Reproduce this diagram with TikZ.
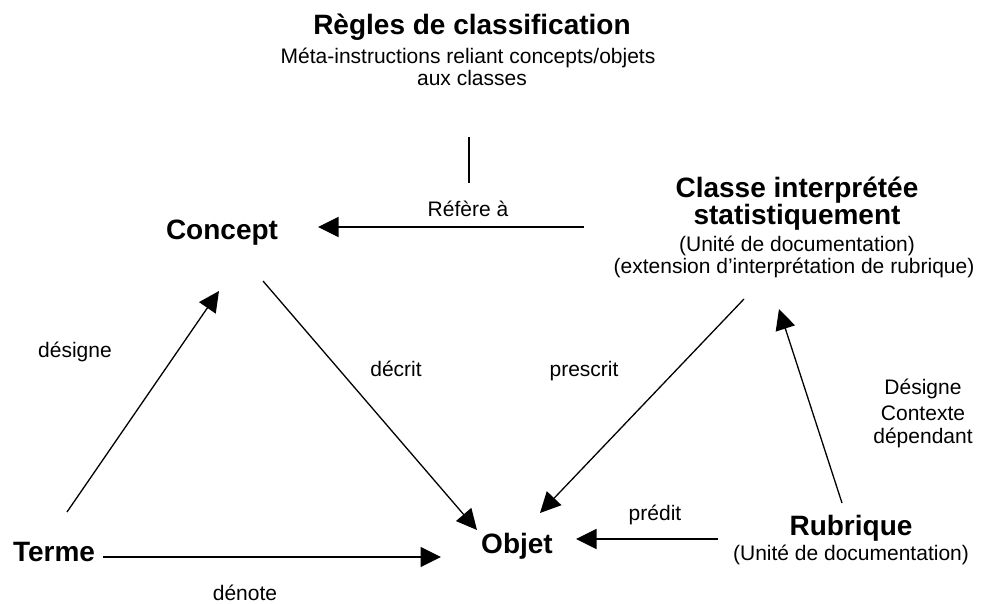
\documentclass[tikz,border=0pt]{standalone}
\usepackage{fontspec}
\setmainfont{Liberation Sans}
\usetikzlibrary{arrows.meta}
\begin{document}
\begin{tikzpicture}[x=1pt,y=-1pt,
  big/.style={font=\fontsize{28}{30}\selectfont\bfseries, inner sep=0pt, anchor=base},
  txt/.style={font=\fontsize{21}{24}\selectfont, inner sep=0pt, anchor=base},
  arr/.style={line width=1.3pt, -{Triangle[length=20.5pt,width=20pt]}},
  ln/.style={line width=1.3pt}]
\useasboundingbox (0,0) rectangle (989,604);

% Règles de classification
\node[big] (regles) at (472,35) {Règles de classification};
\node[txt] (meta1) at (468,64) {Méta-instructions reliant concepts/objets};
\node[txt] (meta2) at (472,86) {aux classes};

% Concept
\node[big] (concept) at (222,240) {Concept};

% Classe
\node[big] (classe1) at (797,198) {Classe interprétée};
\node[big] (classe2) at (797,225) {statistiquement};
\node[txt] (classe3) at (797,252) {(Unité de documentation)};
\node[txt] (classe4) at (794,274) {(extension d’interprétation de rubrique)};

% Terme, Objet, Rubrique
\node[big] (terme) at (54,561) {Terme};
\node[big] (objet) at (517,553) {Objet};
\node[big] (rubrique) at (851,535) {Rubrique};
\node[txt] (rubunite) at (851,560) {(Unité de documentation)};

% labels
\node[txt] (lrefere) at (468,217) {Réfère à};
\node[txt] (ldesigne) at (75,358) {désigne};
\node[txt] (ldecrit) at (396,377) {décrit};
\node[txt] (ldenote) at (245,600) {dénote};
\node[txt] (lprescrit) at (584,377) {prescrit};
\node[txt] (lpredit) at (655,520) {prédit};
\node[txt] (lctx1) at (923,395) {Désigne};
\node[txt] (lctx2) at (923,420) {Contexte};
\node[txt] (lctx3) at (923,443) {dépendant};

% connector end points
\coordinate (rl-a) at (469,137);
\coordinate (rl-b) at (469,183);
\coordinate (ref-a) at (584,227);
\coordinate (ref-b) at (318,227);
\coordinate (dec-a) at (263,281);
\coordinate (dec-b) at (477,530);
\coordinate (des-a) at (67,512);
\coordinate (des-b) at (219,291);
\coordinate (den-a) at (103,557);
\coordinate (den-b) at (441,557);
\coordinate (pre-a) at (744,299);
\coordinate (pre-b) at (540,513);
\coordinate (ctx-a) at (842,503);
\coordinate (ctx-b) at (779,309);
\coordinate (prd-a) at (718,539);
\coordinate (prd-b) at (576,539);

\draw[ln] (rl-a) -- (rl-b);
\draw[arr] (ref-a) -- (ref-b);
\draw[arr] (dec-a) -- (dec-b);
\draw[arr] (des-a) -- (des-b);
\draw[arr] (den-a) -- (den-b);
\draw[arr] (pre-a) -- (pre-b);
\draw[arr] (ctx-a) -- (ctx-b);
\draw[arr] (prd-a) -- (prd-b);
\end{tikzpicture}
\end{document}
